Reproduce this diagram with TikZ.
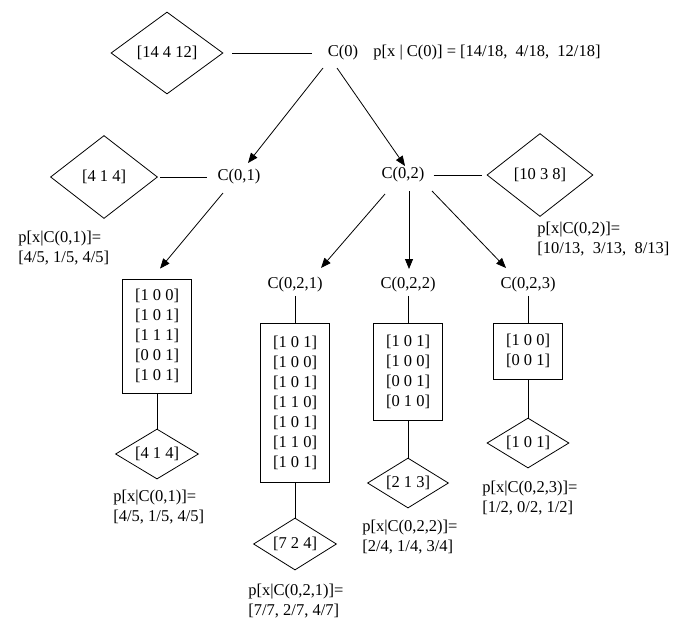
\documentclass[tikz,border=0pt]{standalone}
\usepackage{fontspec}
\setmainfont{Liberation Serif}
\usetikzlibrary{shapes.geometric,arrows.meta,calc}
\begin{document}
\begin{tikzpicture}[x=1pt,y=-1pt,line width=0.8pt,
  every node/.style={font=\fontsize{16.5}{20}\selectfont},
  lbl/.style={inner sep=0pt},
  plbl/.style={inner sep=0pt, align=left, anchor=west},
  dia/.style={draw, diamond, aspect=2, inner sep=0pt},
  box/.style={draw, rectangle, align=center, inner sep=0pt, minimum width=69pt},
  arr/.style={-{Triangle[length=10pt,width=8pt]}}
]
\useasboundingbox (0,0) rectangle (676,619);

% top level
\node[dia, minimum width=112pt, minimum height=82pt] (D0) at (167,53) {[14 4 12]};
\node[lbl] (C0) at (343,53) {C(0)};
\node[lbl, anchor=west] (P0) at (373,53) {p[x | C(0)] = [14/18,~ 4/18,~ 12/18]};
\draw[shorten <=9pt, shorten >=15pt] (D0.east) -- (C0.west);

% second level
\node[lbl] (C01) at (239,177) {C(0,1)};
\node[lbl] (C02) at (403,175) {C(0,2)};
\node[dia, minimum width=107pt, minimum height=83pt] (D01) at (104,177) {[4 1 4]};
\node[dia, minimum width=106pt, minimum height=83pt] (D02) at (540,175) {[10 3 8]};
\draw[shorten <=2.5pt, shorten >=10pt] (D01.east) -- (C01.west);
\draw[shorten <=9pt, shorten >=5pt] (C02.east) -- (D02.west);
\node[plbl] (T01) at (18,248) {p[x|C(0,1)]=\\{}[4/5, 1/5, 4/5]};
\node[plbl] (T02) at (537,239) {p[x|C(0,2)]=\\{}[10/13,~ 3/13,~ 8/13]};

\draw[arr] ($(C0)+(-20,15)$) -- ($(C01)+(9,-14)$);
\draw[arr] ($(C0)+(-6,15)$) -- ($(C02)+(2,-9)$);

% third level
\node[lbl] (C021) at (295,285) {C(0,2,1)};
\node[lbl] (C022) at (408,285) {C(0,2,2)};
\node[lbl] (C023) at (528,285) {C(0,2,3)};

\node[box, minimum height=114pt] (B1) at (157,336) {[1 0 0]\\{}[1 0 1]\\{}[1 1 1]\\{}[0 0 1]\\{}[1 0 1]};
\node[box, minimum height=159pt] (B2) at (295,402.5) {[1 0 1]\\{}[1 0 0]\\{}[1 0 1]\\{}[1 1 0]\\{}[1 0 1]\\{}[1 1 0]\\{}[1 0 1]};
\node[box, minimum height=97pt] (B3) at (408,371.5) {[1 0 1]\\{}[1 0 0]\\{}[0 0 1]\\{}[0 1 0]};
\node[box, minimum height=56pt] (B4) at (528,351) {[1 0 0]\\{}[0 0 1]};

\draw[arr] ($(C01)+(-16,16)$) -- ($(B1.north)+(3,-10)$);
\draw[arr] ($(C02)+(-18,19)$) -- ($(C021)+(26,-17)$);
\draw[arr] ($(C02)+(6,16)$) -- ($(C022)+(1,-16)$);
\draw[arr] ($(C02)+(29,16)$) -- ($(C023)+(-22,-17)$);

\draw[shorten <=3pt] (C021.south) -- (B2.north);
\draw[shorten <=3pt] (C022.south) -- (B3.north);
\draw[shorten <=3pt] (C023.south) -- (B4.north);

% bottom diamonds
\node[dia, minimum width=83pt, minimum height=50pt] (D01b) at (157,454) {[4 1 4]};
\node[dia, minimum width=83pt, minimum height=52pt] (D021) at (295,544) {[7 2 4]};
\node[dia, minimum width=81pt, minimum height=50pt] (D022) at (408,483) {[2 1 3]};
\node[dia, minimum width=82pt, minimum height=50pt] (D023) at (528,443) {[1 0 1]};

\draw (B1.south) -- (D01b.north);
\draw (B2.south) -- (D021.north);
\draw (B3.south) -- (D022.north);
\draw (B4.south) -- (D023.north);

\node[plbl] (T01b) at (113,507.5) {p[x|C(0,1)]=\\{}[4/5, 1/5, 4/5]};
\node[plbl] (T021) at (248,601) {p[x|C(0,2,1)]=\\{}[7/7, 2/7, 4/7]};
\node[plbl] (T022) at (362,537) {p[x|C(0,2,2)]=\\{}[2/4, 1/4, 3/4]};
\node[plbl] (T023) at (482,498) {p[x|C(0,2,3)]=\\{}[1/2, 0/2, 1/2]};
\end{tikzpicture}
\end{document}
